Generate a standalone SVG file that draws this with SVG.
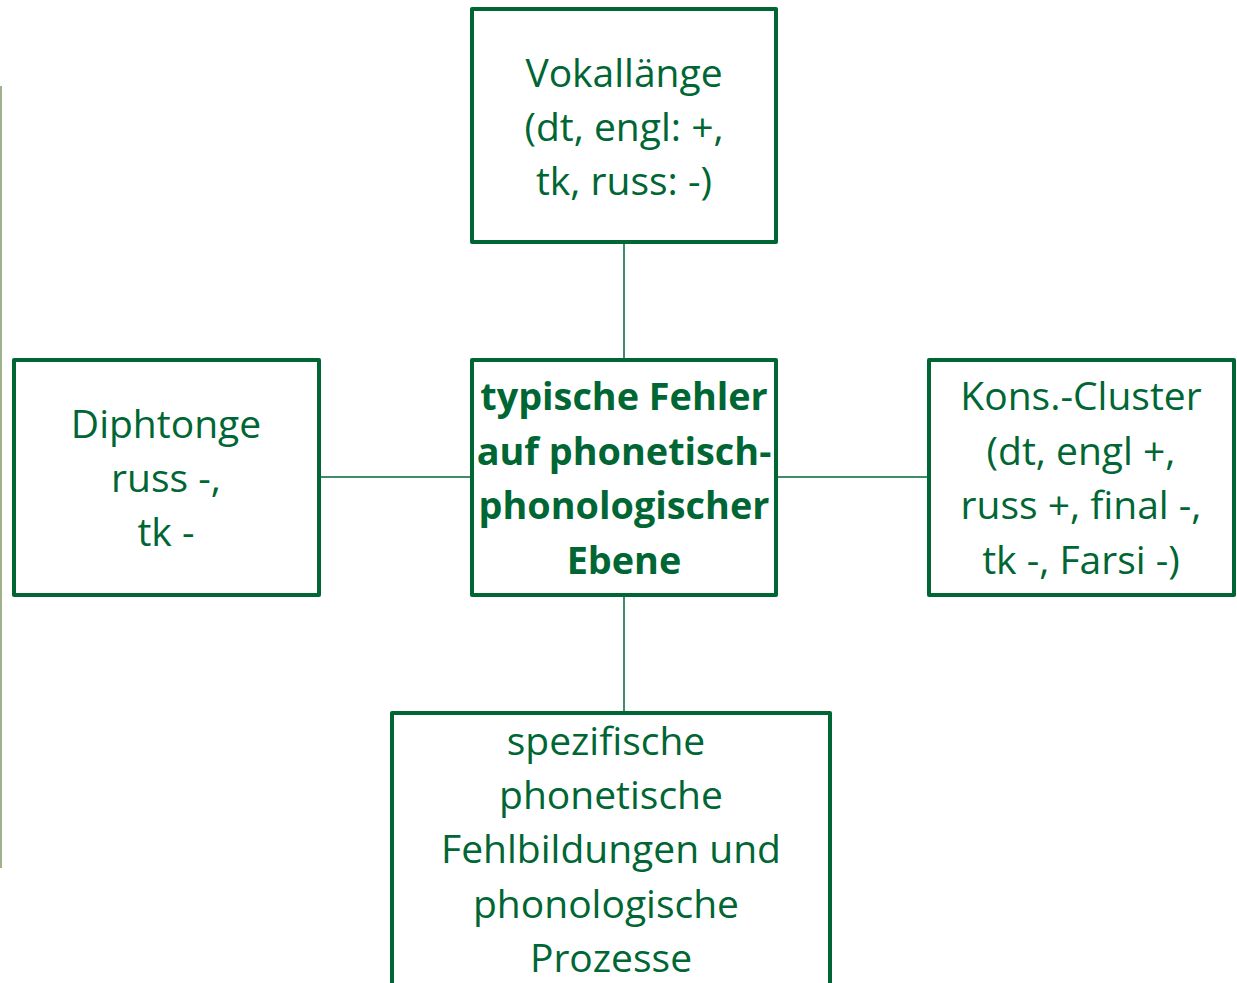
<svg xmlns="http://www.w3.org/2000/svg" width="1237" height="983" viewBox="0 0 1237 983">
<style>
.box{fill:#ffffff;stroke:#006633;stroke-width:4;stroke-linejoin:round}
.conn{stroke:#006633;stroke-width:1.5;fill:none}
.t{font-family:"Open Sans","Noto Sans","Liberation Sans",sans-serif;font-size:39px;fill:#006633;text-anchor:middle}
.b{font-weight:bold;font-size:37.8px}
</style>
<rect width="1237" height="983" fill="#ffffff"/>
<line x1="1" y1="86" x2="1" y2="868" stroke="#9fb28c" stroke-width="2"/>
<g id="connectors">
<line class="conn" x1="624" y1="242" x2="624" y2="360"/>
<line class="conn" x1="624" y1="595" x2="624" y2="713"/>
<line class="conn" x1="319" y1="477" x2="472" y2="477"/>
<line class="conn" x1="776" y1="477" x2="929" y2="477"/>
</g>
<g id="node-top">
<rect class="box" x="472" y="9" width="304" height="233"/>
<text class="t" x="624" y="87">Vokallänge</text>
<text class="t" x="624" y="141">(dt, engl: +,</text>
<text class="t" x="624" y="195">tk, russ: -)</text>
</g>
<g id="node-center">
<rect class="box" x="472" y="360" width="304" height="235"/>
<text class="t b" x="624" y="410">typische Fehler</text>
<text class="t b" x="624" y="465">auf phonetisch-</text>
<text class="t b" x="624" y="519">phonologischer</text>
<text class="t b" x="624" y="574">Ebene</text>
</g>
<g id="node-left">
<rect class="box" x="14" y="360" width="305" height="235"/>
<text class="t" x="166" y="438">Diphtonge</text>
<text class="t" x="166" y="492">russ -,</text>
<text class="t" x="166" y="546">tk -</text>
</g>
<g id="node-right">
<rect class="box" x="929" y="360" width="305" height="235"/>
<text class="t" x="1081" y="410">Kons.-Cluster</text>
<text class="t" x="1081" y="465">(dt, engl +,</text>
<text class="t" x="1081" y="519">russ +, final -,</text>
<text class="t" x="1081" y="574">tk -, Farsi -)</text>
</g>
<g id="node-bottom">
<rect class="box" x="392" y="713" width="438" height="290"/>
<text class="t" x="606" y="755">spezifische</text>
<text class="t" x="611" y="809">phonetische</text>
<text class="t" x="611" y="863">Fehlbildungen und</text>
<text class="t" x="606" y="918">phonologische</text>
<text class="t" x="611" y="972">Prozesse</text>
</g>
</svg>
